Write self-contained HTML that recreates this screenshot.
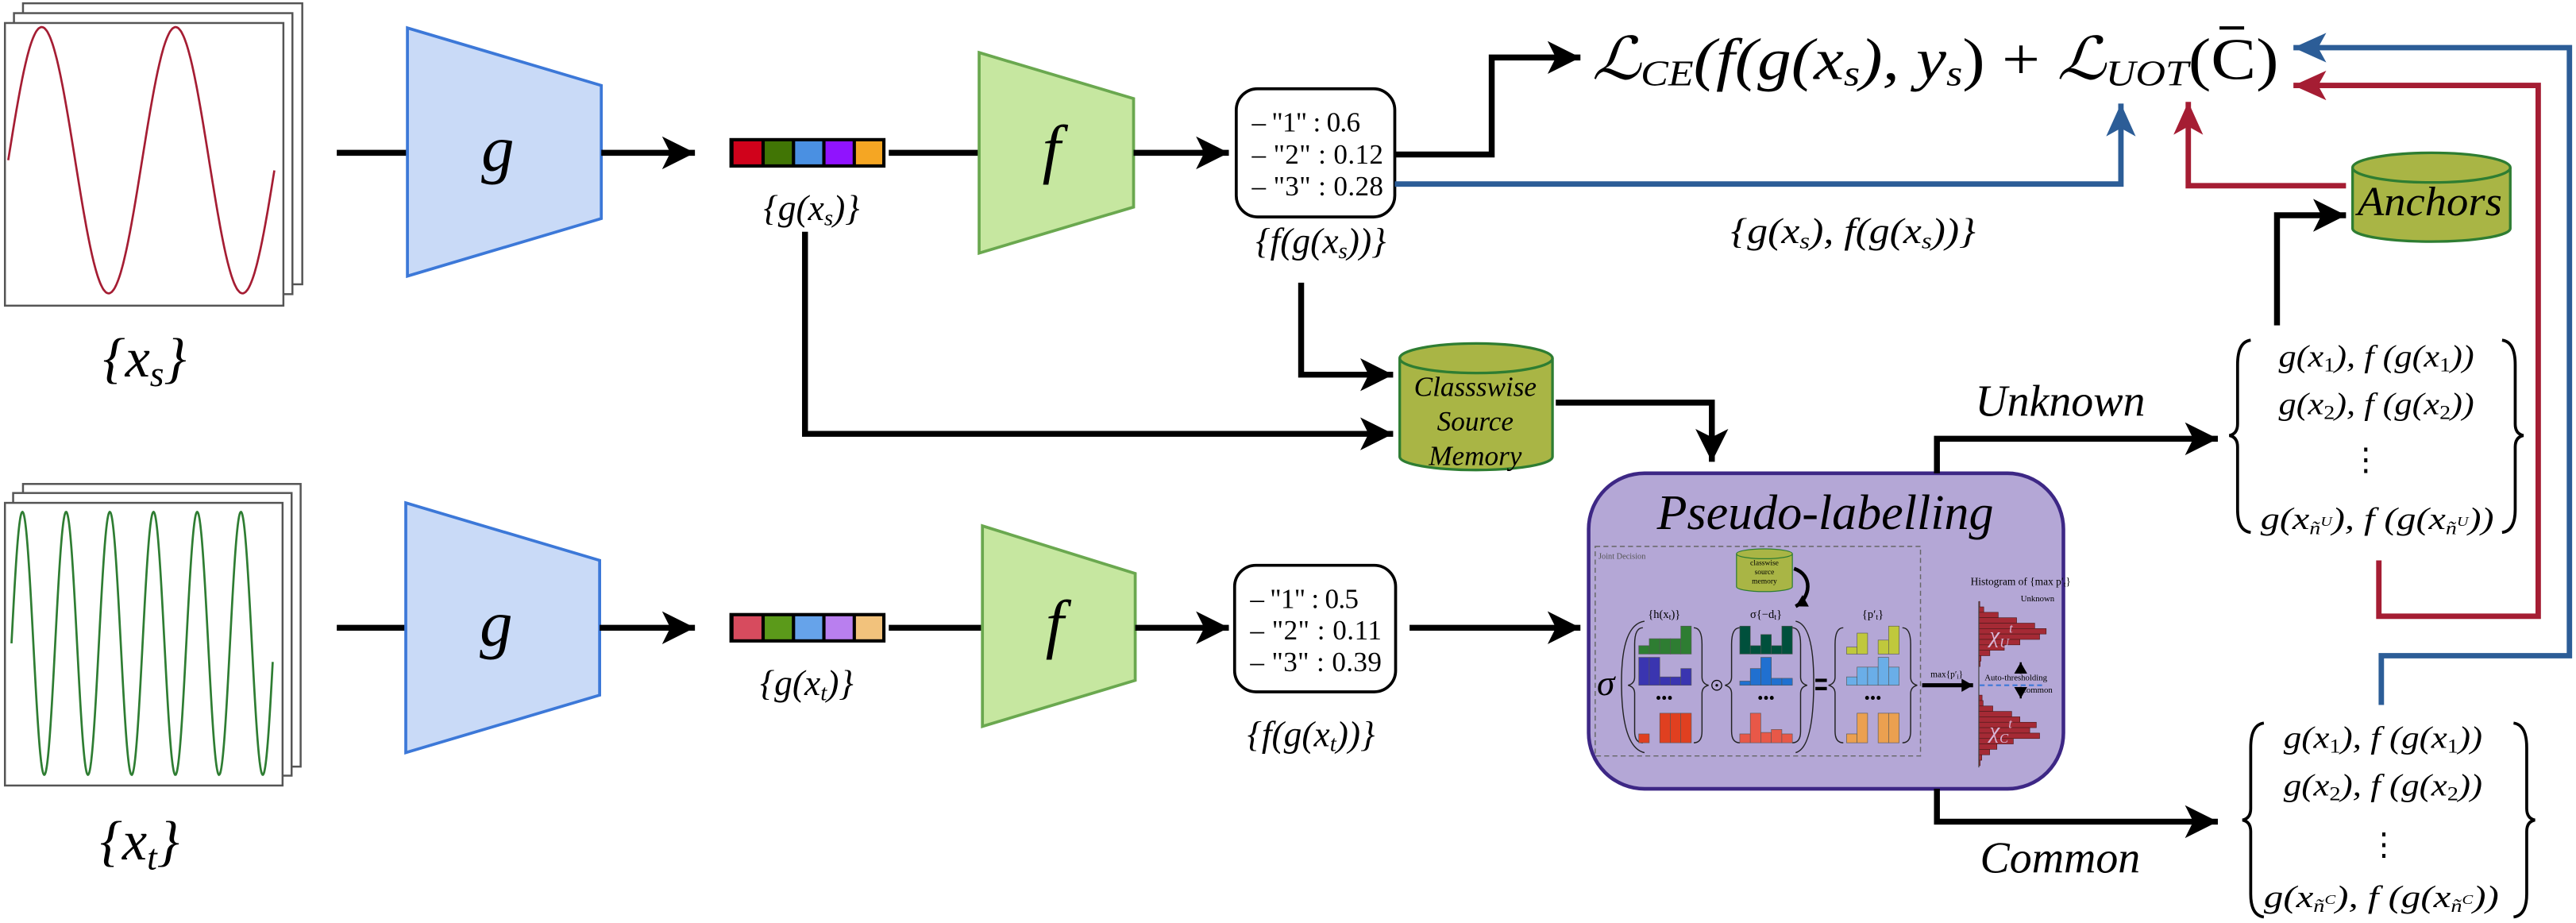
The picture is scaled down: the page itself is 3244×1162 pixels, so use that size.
<!DOCTYPE html>
<html><head><meta charset="utf-8"><style>html,body{margin:0;padding:0;background:#fff}svg{display:block}</style></head><body>
<svg width="3244" height="1162" viewBox="0 0 1568 561.66" preserveAspectRatio="none" xmlns="http://www.w3.org/2000/svg" font-family="Liberation Serif, DejaVu Serif, serif">
<defs>
<marker id="ab" markerUnits="userSpaceOnUse" markerWidth="22" markerHeight="22" refX="20" refY="10" orient="auto"><path d="M0,0 L20,10 L0,20 L5,10 z" fill="#000"/></marker>
<marker id="abl" markerUnits="userSpaceOnUse" markerWidth="22" markerHeight="20" refX="20" refY="9" orient="auto"><path d="M0,0 L20,9 L0,18 L5,9 z" fill="#2c5d97"/></marker>
<marker id="ar" markerUnits="userSpaceOnUse" markerWidth="22" markerHeight="20" refX="20" refY="9" orient="auto"><path d="M0,0 L20,9 L0,18 L5,9 z" fill="#a51d33"/></marker>
<marker id="as" markerUnits="userSpaceOnUse" markerWidth="8" markerHeight="8" refX="7" refY="4" orient="auto"><path d="M0,0 L7,4 L0,8 z" fill="#000"/></marker>
</defs>

<g fill="#fff" stroke="#555" stroke-width="1.2">
<rect x="14" y="2" width="170" height="171"/>
<rect x="8.5" y="8" width="169.5" height="171"/>
<rect x="3" y="14" width="169.5" height="172"/>
</g>
<path id="sw" fill="none" stroke="#a51d33" stroke-width="1.3" d=""/>
<g fill="#fff" stroke="#555" stroke-width="1.2">
<rect x="14" y="294.5" width="169" height="172"/>
<rect x="8" y="300" width="169.5" height="172"/>
<rect x="3" y="306" width="169" height="172"/>
</g>
<path id="tw" fill="none" stroke="#2e7d32" stroke-width="1.3" d=""/>
<text x="88" y="229" font-size="34" text-anchor="middle" font-style="italic">{<tspan>x</tspan><tspan font-size="22" dy="6">s</tspan><tspan dy="-6">}</tspan></text>
<text x="85" y="523" font-size="34" text-anchor="middle" font-style="italic">{<tspan>x</tspan><tspan font-size="22" dy="6">t</tspan><tspan dy="-6">}</tspan></text>

<line x1="205" y1="93" x2="248" y2="93" stroke="#000" stroke-width="3.6"/>
<polygon points="248,17 366,52 366,133 248,168" fill="#c9daf7" stroke="#3c78d8" stroke-width="1.8"/>
<text x="303" y="104" font-size="40" font-style="italic" text-anchor="middle">g</text>
<line x1="366" y1="93" x2="423" y2="93" stroke="#000" stroke-width="3.6" marker-end="url(#ab)"/>
<rect x="444" y="84" width="95" height="18" fill="#000"/>
<rect x="446.5" y="86" width="17" height="14" fill="#d0021b"/><rect x="465.5" y="86" width="16.5" height="14" fill="#417505"/><rect x="484" y="86" width="16.5" height="14" fill="#4a90e2"/><rect x="502.5" y="86" width="16.5" height="14" fill="#9013fe"/><rect x="521" y="86" width="16" height="14" fill="#f5a623"/>
<text x="494" y="134" font-size="22" text-anchor="middle" font-style="italic">{g(x<tspan font-size="14" dy="3">s</tspan><tspan dy="-3">)}</tspan></text>
<line x1="541" y1="93" x2="596" y2="93" stroke="#000" stroke-width="3.6"/>
<polygon points="596,32 690,60 690,126 596,154" fill="#c6e7a0" stroke="#6aa84f" stroke-width="1.8"/>
<text x="640" y="104" font-size="40" font-style="italic" text-anchor="middle">f</text>
<line x1="690" y1="93" x2="748" y2="93" stroke="#000" stroke-width="3.6" marker-end="url(#ab)"/>
<rect x="752.5" y="54" width="96.5" height="78" rx="13" fill="#fff" stroke="#000" stroke-width="1.8"/>
<g font-size="17"><text x="762" y="80" textLength="66">– "1"  :  0.6</text><text x="762" y="99.5" textLength="80">– "2"  :  0.12</text><text x="762" y="119" textLength="80">– "3"  :  0.28</text></g>
<text x="804" y="154" font-size="22" text-anchor="middle" font-style="italic">{f(g(x<tspan font-size="14" dy="3">s</tspan><tspan dy="-3">))}</tspan></text>

<line x1="205" y1="382" x2="247" y2="382" stroke="#000" stroke-width="3.6"/>
<polygon points="247,306 365,341 365,423 247,458" fill="#c9daf7" stroke="#3c78d8" stroke-width="1.8"/>
<text x="302" y="393" font-size="40" font-style="italic" text-anchor="middle">g</text>
<line x1="365" y1="382" x2="423" y2="382" stroke="#000" stroke-width="3.6" marker-end="url(#ab)"/>
<rect x="444" y="373" width="95" height="18" fill="#000"/>
<rect x="446.5" y="375" width="17" height="14" fill="#d74b5e"/><rect x="465.5" y="375" width="16.5" height="14" fill="#5b9a1a"/><rect x="484" y="375" width="16.5" height="14" fill="#66a3ea"/><rect x="502.5" y="375" width="16.5" height="14" fill="#b97fef"/><rect x="521" y="375" width="16" height="14" fill="#f2c27c"/>
<text x="491" y="423" font-size="22" text-anchor="middle" font-style="italic">{g(x<tspan font-size="14" dy="3">t</tspan><tspan dy="-3">)}</tspan></text>
<line x1="541" y1="382" x2="598" y2="382" stroke="#000" stroke-width="3.6"/>
<polygon points="598,320 691,349 691,414 598,442" fill="#c6e7a0" stroke="#6aa84f" stroke-width="1.8"/>
<text x="642" y="393" font-size="40" font-style="italic" text-anchor="middle">f</text>
<line x1="691" y1="382" x2="748" y2="382" stroke="#000" stroke-width="3.6" marker-end="url(#ab)"/>
<rect x="751.5" y="344" width="98" height="77" rx="13" fill="#fff" stroke="#000" stroke-width="1.8"/>
<g font-size="17"><text x="761" y="370" textLength="66">– "1"  :  0.5</text><text x="761" y="389" textLength="80">– "2"  :  0.11</text><text x="761" y="408.5" textLength="80">– "3"  :  0.39</text></g>
<text x="798" y="454" font-size="22" text-anchor="middle" font-style="italic">{f(g(x<tspan font-size="14" dy="3">t</tspan><tspan dy="-3">))}</tspan></text>
<line x1="858" y1="382" x2="962" y2="382" stroke="#000" stroke-width="3.6" marker-end="url(#ab)"/>

<polyline points="849,94 908,94 908,35 962,35" fill="none" stroke="#000" stroke-width="3.6" marker-end="url(#ab)"/>
<text x="969" y="48" font-size="36" textLength="418" lengthAdjust="spacingAndGlyphs"><tspan font-style="italic">ℒ</tspan><tspan font-size="22" font-style="italic" dy="4">CE</tspan><tspan dy="-4" font-style="italic">(f(g(x</tspan><tspan font-size="22" font-style="italic" dy="4">s</tspan><tspan dy="-4" font-style="italic">), y</tspan><tspan font-size="22" font-style="italic" dy="4">s</tspan><tspan dy="-4">)   +   </tspan><tspan font-style="italic">ℒ</tspan><tspan font-size="22" font-style="italic" dy="4">UOT</tspan><tspan dy="-4">(C)</tspan></text>
<line x1="1351" y1="17" x2="1366" y2="17" stroke="#000" stroke-width="2"/>
<polyline points="849,112 1291,112 1291,63" fill="none" stroke="#2c5d97" stroke-width="3.3" marker-end="url(#abl)"/>
<polyline points="1428,113 1332,113 1332,62" fill="none" stroke="#a51d33" stroke-width="3.3" marker-end="url(#ar)"/>
<text x="1128" y="148" font-size="22" text-anchor="middle" font-style="italic" textLength="149" lengthAdjust="spacingAndGlyphs">{g(x<tspan font-size="14" dy="3">s</tspan><tspan dy="-3">), f(g(x</tspan><tspan font-size="14" dy="3">s</tspan><tspan dy="-3">))}</tspan></text>

<path d="M1432,102 L1432,139 A48,8 0 0 0 1528,139 L1528,102" fill="#a9b545" stroke="#2e7d32" stroke-width="1.6"/>
<ellipse cx="1480" cy="102" rx="48" ry="9" fill="#a9b545" stroke="#2e7d32" stroke-width="1.6"/>
<text x="1479" y="131" font-size="25" text-anchor="middle" font-style="italic" textLength="88" lengthAdjust="spacingAndGlyphs">Anchors</text>
<polyline points="1386,198 1386,131 1428,131" fill="none" stroke="#000" stroke-width="3.6" marker-end="url(#ab)"/>

<path d="M852,218 L852,278 A46.5,8 0 0 0 945,278 L945,218" fill="#a9b545" stroke="#2e7d32" stroke-width="1.6"/>
<ellipse cx="898.5" cy="218" rx="46.5" ry="9" fill="#a9b545" stroke="#2e7d32" stroke-width="1.6"/>
<g font-size="17" font-style="italic" text-anchor="middle"><text x="898" y="241">Classswise</text><text x="898" y="262">Source</text><text x="898" y="283">Memory</text></g>
<polyline points="792,172 792,228 848,228" fill="none" stroke="#000" stroke-width="3.6" marker-end="url(#ab)"/>
<polyline points="490,141 490,264 848,264" fill="none" stroke="#000" stroke-width="3.6" marker-end="url(#ab)"/>
<polyline points="947,245 1042,245 1042,281" fill="none" stroke="#000" stroke-width="3.6" marker-end="url(#ab)"/>

<rect x="967" y="288" width="289" height="192" rx="34" fill="#b4a7d6" stroke="#3d2785" stroke-width="2.2"/>
<text x="1111" y="322" font-size="30" text-anchor="middle" font-style="italic">Pseudo-labelling</text>
<rect x="971" y="332.5" width="198" height="127.5" fill="none" stroke="#666" stroke-width="0.7" stroke-dasharray="3,2"/>
<text x="973" y="340" font-size="5" fill="#555">Joint Decision</text>
<path d="M1057,337 L1057,357 A17,3 0 0 0 1091,357 L1091,337" fill="#a9b545" stroke="#2e7d32" stroke-width="0.6"/>
<ellipse cx="1074" cy="337" rx="17" ry="3" fill="#a9b545" stroke="#2e7d32" stroke-width="0.6"/>
<g font-size="4.6" text-anchor="middle"><text x="1074" y="344">classwise</text><text x="1074" y="349.5">source</text><text x="1074" y="355">memory</text></g>
<path d="M1092,346 C1104,350 1102,364 1093,369" fill="none" stroke="#000" stroke-width="2.2" marker-end="url(#as)"/>
<g font-size="7" text-anchor="middle"><text x="1013" y="376">{h(x<tspan font-size="5" dy="1">t</tspan><tspan dy="-1">)}</tspan></text><text x="1075" y="376">σ{−d<tspan font-size="5" dy="1">t</tspan><tspan dy="-1">}</tspan></text><text x="1140" y="376">{p′<tspan font-size="5" dy="1">t</tspan><tspan dy="-1">}</tspan></text></g>
<text x="972" y="423" font-size="22" font-style="italic">σ</text>
<g fill="none" stroke="#222" stroke-width="0.7">
<path d="M1001,378 Q987,380 987,415 Q987,455 1001,458"/>
<path d="M1093,378 Q1104,380 1104,415 Q1104,455 1093,458"/>
<path d="M1000,382 Q995,382 995,392 L995,412 Q995,416 991,417 Q995,418 995,422 L995,445 Q995,452 1000,452"/>
<path d="M1031,382 Q1036,382 1036,392 L1036,412 Q1036,416 1040,417 Q1036,418 1036,422 L1036,445 Q1036,452 1031,452"/>
<path d="M1059,382 Q1054,382 1054,392 L1054,412 Q1054,416 1050,417 Q1054,418 1054,422 L1054,445 Q1054,452 1059,452"/>
<path d="M1091,382 Q1096,382 1096,392 L1096,412 Q1096,416 1100,417 Q1096,418 1096,422 L1096,445 Q1096,452 1091,452"/>
<path d="M1122,382 Q1117,382 1117,392 L1117,412 Q1117,416 1113,417 Q1117,418 1117,422 L1117,445 Q1117,452 1122,452"/>
<path d="M1158,382 Q1163,382 1163,392 L1163,412 Q1163,416 1167,417 Q1163,418 1163,422 L1163,445 Q1163,452 1158,452"/>
</g>
<circle cx="1045" cy="417" r="3" fill="none" stroke="#000" stroke-width="0.6"/><circle cx="1045" cy="417" r="0.8"/>
<rect x="1105" y="413" width="7" height="2" fill="#000"/><rect x="1105" y="418" width="7" height="2" fill="#000"/>
<g id="bars" stroke="#555" stroke-width="0.3"></g>
<g font-size="10" text-anchor="middle"><text x="1013" y="428">•••</text><text x="1075" y="428">•••</text><text x="1140" y="428">•••</text></g>
<line x1="1170" y1="417" x2="1201" y2="417" stroke="#000" stroke-width="2.5" marker-end="url(#as)"/>
<text x="1185" y="412" font-size="5.5" text-anchor="middle">max{p′<tspan font-size="4" dy="1">i</tspan><tspan dy="-1">}</tspan></text>
<text x="1230" y="356" font-size="6.5" text-anchor="middle">Histogram of {max p′<tspan font-size="4.5" dy="1">t</tspan><tspan dy="-1">}</tspan></text>
<g id="hist" fill="#a52a35" stroke="#4a1a1a" stroke-width="0.3"></g>
<line x1="1204.5" y1="366" x2="1204.5" y2="467" stroke="#444" stroke-width="0.6"/>
<line x1="1205" y1="417" x2="1245" y2="417" stroke="#3c78d8" stroke-width="1" stroke-dasharray="3,2"/>
<text x="1208" y="414" font-size="5.2">Auto-thresholding</text>
<text x="1230" y="366" font-size="5.2">Unknown</text>
<text x="1230" y="421.5" font-size="5.2">Common</text>
<line x1="1230" y1="410" x2="1230" y2="403" stroke="#000" stroke-width="1.2" marker-end="url(#as)"/>
<line x1="1230" y1="418" x2="1230" y2="425" stroke="#000" stroke-width="1.2" marker-end="url(#as)"/>
<text x="1211" y="391" font-size="14" font-style="italic" fill="#d8b8d8">χ<tspan font-size="8" dy="3">U</tspan><tspan font-size="8" dy="-9">t</tspan></text>
<text x="1211" y="449" font-size="14" font-style="italic" fill="#d8b8d8">χ<tspan font-size="8" dy="3">C</tspan><tspan font-size="8" dy="-9">t</tspan></text>

<polyline points="1179,288 1179,267 1350,267" fill="none" stroke="#000" stroke-width="3.6" marker-end="url(#ab)"/>
<polyline points="1179,480 1179,500 1350,500" fill="none" stroke="#000" stroke-width="3.6" marker-end="url(#ab)"/>
<text x="1254" y="253" font-size="27" text-anchor="middle" font-style="italic">Unknown</text>
<text x="1254" y="531" font-size="27" text-anchor="middle" font-style="italic">Common</text>

<g font-size="19" font-style="italic" lengthAdjust="spacingAndGlyphs">
<text x="1387" y="223" textLength="119" lengthAdjust="spacingAndGlyphs">g(x<tspan font-size="12" dy="3" font-style="normal">1</tspan><tspan dy="-3">), f (g(x</tspan><tspan font-size="12" dy="3" font-style="normal">1</tspan><tspan dy="-3">))</tspan></text>
<text x="1387" y="252" textLength="119" lengthAdjust="spacingAndGlyphs">g(x<tspan font-size="12" dy="3" font-style="normal">2</tspan><tspan dy="-3">), f (g(x</tspan><tspan font-size="12" dy="3" font-style="normal">2</tspan><tspan dy="-3">))</tspan></text>
<text x="1440" y="286" font-style="normal" text-anchor="middle">⋮</text>
<text x="1376" y="322" textLength="142" lengthAdjust="spacingAndGlyphs">g(x<tspan font-size="11" dy="3">ñ</tspan><tspan font-size="8" dy="-5">U</tspan><tspan dy="2" font-size="19">), f (g(x</tspan><tspan font-size="11" dy="3">ñ</tspan><tspan font-size="8" dy="-5">U</tspan><tspan dy="2" font-size="19">))</tspan></text>
<text x="1390" y="455" textLength="121" lengthAdjust="spacingAndGlyphs">g(x<tspan font-size="12" dy="3" font-style="normal">1</tspan><tspan dy="-3">), f (g(x</tspan><tspan font-size="12" dy="3" font-style="normal">1</tspan><tspan dy="-3">))</tspan></text>
<text x="1390" y="484" textLength="121" lengthAdjust="spacingAndGlyphs">g(x<tspan font-size="12" dy="3" font-style="normal">2</tspan><tspan dy="-3">), f (g(x</tspan><tspan font-size="12" dy="3" font-style="normal">2</tspan><tspan dy="-3">))</tspan></text>
<text x="1451" y="520" font-style="normal" text-anchor="middle">⋮</text>
<text x="1378" y="552" textLength="143" lengthAdjust="spacingAndGlyphs">g(x<tspan font-size="11" dy="3">ñ</tspan><tspan font-size="8" dy="-5">C</tspan><tspan dy="2" font-size="19">), f (g(x</tspan><tspan font-size="11" dy="3">ñ</tspan><tspan font-size="8" dy="-5">C</tspan><tspan dy="2" font-size="19">))</tspan></text>
</g>
<g fill="none" stroke="#000" stroke-width="1.8">
<path d="M1370,207 Q1362,208 1362,222 L1362,258 Q1362,264 1357,265 Q1362,266 1362,272 L1362,310 Q1362,323 1370,324"/>
<path d="M1523,207 Q1531,208 1531,222 L1531,258 Q1531,264 1536,265 Q1531,266 1531,272 L1531,310 Q1531,323 1523,324"/>
<path d="M1378,440 Q1370,441 1370,455 L1370,492 Q1370,498 1365,499 Q1370,500 1370,506 L1370,544 Q1370,557 1378,558"/>
<path d="M1530,440 Q1538,441 1538,455 L1538,492 Q1538,498 1543,499 Q1538,500 1538,506 L1538,544 Q1538,557 1530,558"/>
</g>

<polyline points="1448,341 1448,375 1545,375 1545,52 1396,52" fill="none" stroke="#a51d33" stroke-width="3.3" marker-end="url(#ar)"/>
<polyline points="1449.5,429 1449.5,399 1564,399 1564,29 1396,29" fill="none" stroke="#2c5d97" stroke-width="3.3" marker-end="url(#abl)"/>
</svg>
<script>
(function(){var NS="http://www.w3.org/2000/svg";
var s="M",t="M",x,y;for(x=5;x<=167;x+=0.5){y=97.5-81*Math.sin(2*Math.PI*(x-5)/81.5);s+=x.toFixed(1)+","+y.toFixed(1)+" ";}
for(x=7;x<=166;x+=0.25){y=391.5-80*Math.sin(2*Math.PI*(x-7)/26.6);t+=x.toFixed(2)+","+y.toFixed(1)+" ";}
document.getElementById("sw").setAttribute("d",s);document.getElementById("tw").setAttribute("d",t);
var g=document.getElementById("bars");
function grp(x0,rows){var ys=[[381,398],[400,417],[434,452]];for(var r=0;r<3;r++){for(var i=0;i<5;i++){var hv=rows[r][1][i];if(hv<=0)continue;var y1=ys[r][1],H=(y1-ys[r][0])*hv;var e=document.createElementNS(NS,"rect");e.setAttribute("x",x0+i*6.4);e.setAttribute("y",y1-H);e.setAttribute("width",6.4);e.setAttribute("height",H);e.setAttribute("fill",rows[r][0]);g.appendChild(e);}}}
grp(997.5,[["#2e7d32",[0.3,0.55,0.55,0.55,1]],["#3a35b0",[1,1,0.3,0.3,0.6]],["#e04020",[0.3,0,1,1,1]]]);
grp(1059,[["#00503c",[1,0.3,0.7,0.3,1]],["#2070d0",[0.15,0.6,1,0.25,0.25]],["#e85848",[0.3,1,0.35,0.45,0.3]]]);
grp(1124,[["#c0c83c",[0.25,0.75,0,0.5,1]],["#6aaee8",[0.3,0.65,0.65,1,0.65]],["#eba050",[0.3,1,0,1,1]]]);
var hg=document.getElementById("hist");function hb(y0,ws){for(var i=0;i<ws.length;i++){var e=document.createElementNS(NS,"rect");e.setAttribute("x",1204.5);e.setAttribute("y",y0+i*3.3);e.setAttribute("width",ws[i]);e.setAttribute("height",3.3);hg.appendChild(e);}}
hb(366,[0.6,3,11.8,23,34,41,37,25,15.5,6.7,1.3,0.8]);hb(423,[2,2.6,8.5,20,25,35,31,37,21,11,6.6,1.8,0.8]);
var xs=document.querySelectorAll("text");for(var k=0;k<xs.length;k++){if(xs[k].textContent.indexOf("χ")===0){xs[k].parentNode.appendChild(xs[k]);}}
})();
</script>
</body></html>
